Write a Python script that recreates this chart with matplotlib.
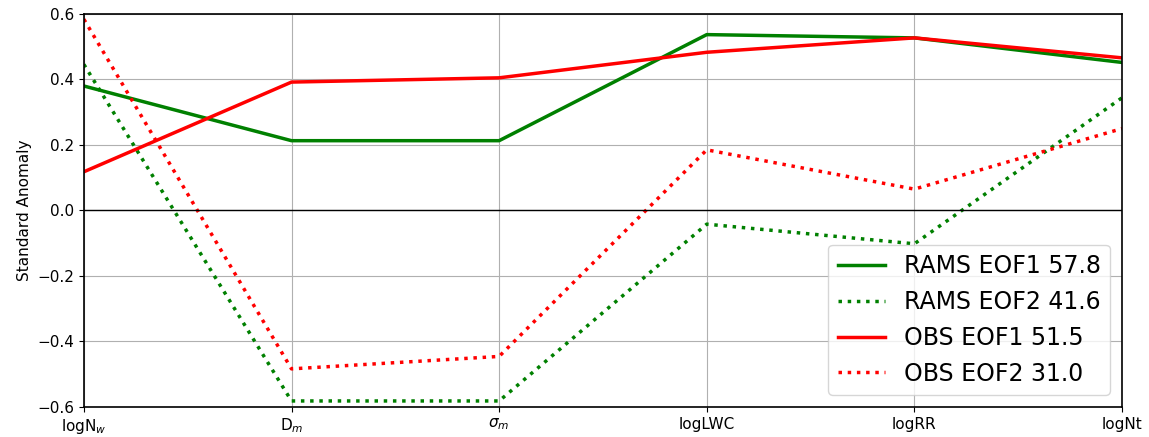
import matplotlib
matplotlib.use('Agg')
import matplotlib.pyplot as plt
import numpy as np

# variables along the x axis
variables = ['logN$_w$', 'D$_m$', '$\\sigma_m$', 'logLWC', 'logRR', 'logNt']

# EOF loadings (standard anomaly) for each variable
rams_eof1 = [0.38, 0.213, 0.213, 0.537, 0.527, 0.452]
rams_eof2 = [0.446, -0.582, -0.582, -0.042, -0.102, 0.344]
obs_eof1 = [0.118, 0.392, 0.405, 0.483, 0.527, 0.466]
obs_eof2 = [0.584, -0.484, -0.446, 0.185, 0.065, 0.25]

labels = ['RAMS EOF1 57.8', 'RAMS EOF2 41.6', 'OBS EOF1 51.5', 'OBS EOF2 31.0']

x = np.arange(len(variables))

plt.rcParams['font.size'] = 11

fig = plt.figure(figsize=(11.49, 4.37), dpi=100)
ax = fig.add_axes([0.073, 0.069, 0.9035, 0.899])

ax.plot(x, rams_eof1, color='green', linestyle='-', linewidth=2.5, label=labels[0])
ax.plot(x, rams_eof2, color='green', linestyle=':', linewidth=2.5, label=labels[1])
ax.plot(x, obs_eof1, color='red', linestyle='-', linewidth=2.5, label=labels[2])
ax.plot(x, obs_eof2, color='red', linestyle=':', linewidth=2.5, label=labels[3])

# zero reference line
ax.axhline(0, color='black', linewidth=1)

ax.set_xticks(x)
ax.set_xticklabels(variables)
ax.set_xlim(0, len(variables) - 1)
ax.set_ylim(-0.6, 0.6)
ax.set_ylabel('Standard Anomaly')
ax.grid(True)
for spine in ax.spines.values():
    spine.set_linewidth(1.2)

ax.legend(loc='lower right', fontsize=17)

plt.savefig('out.png', dpi=100)
